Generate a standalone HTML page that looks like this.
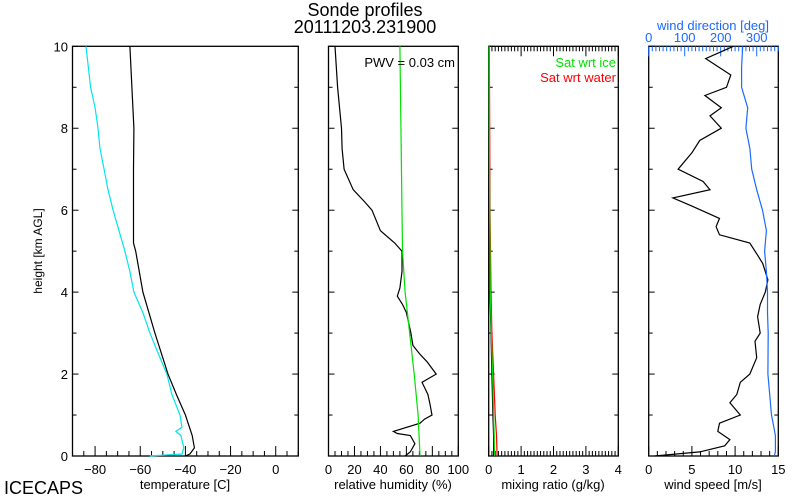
<!DOCTYPE html>
<html><head><meta charset="utf-8"><style>
html,body{margin:0;padding:0;background:#fff;}
svg{display:block;font-family:"Liberation Sans",sans-serif;}
</style></head><body>
<svg id="c" width="800" height="500" viewBox="0 0 800 500">
<text x="365" y="16" font-size="18" text-anchor="middle">Sonde profiles</text>
<text x="365" y="33" font-size="18" text-anchor="middle">20111203.231900</text>
<text x="4" y="494" font-size="18">ICECAPS</text>
<text transform="translate(42,251) rotate(-90)" font-size="12" text-anchor="middle">height [km AGL]</text>
</svg>
<script>
// ---- data ----
const tempH = [0,0.05,0.2,0.5,1,1.5,2,3,4,5,5.2,6,7,8,9,10];
const tempT = [-40,-38,-36,-37,-40,-44,-47.7,-53.5,-58.8,-62,-63,-63,-63,-62.8,-63.7,-64.6];
const dewH = [0,0.05,0.2,0.5,0.6,0.7,1,1.5,2,2.5,3,3.5,4,4.5,5,5.5,6,6.5,7,7.5,8,8.5,9,9.5,10];
const dewT = [-55.7,-41.5,-40.7,-42,-44.2,-41.5,-42.4,-46,-48.2,-52,-55.7,-58.8,-62.8,-64.6,-66.8,-69.4,-72,-74.3,-76,-77.8,-78.7,-80,-82,-83,-84];
const rhH = [0,0.1,0.3,0.5,0.55,0.6,0.8,0.9,1,1.3,1.5,1.8,2,2.3,2.5,2.7,3,3.5,3.7,3.9,4.1,4.5,5,5.2,5.5,6,6.2,6.5,7,7.5,8,9,9.5,10];
const rhV = [59,63,66.6,63,53,50,70.5,74,79.7,78,76.6,72,83,76,70,65,63.5,60,57,53,55,56.6,56.6,51,40,33.5,28,19,12,10.5,10,7,6,5];
const rhIceH = [0,1,2,4,5,10];
const rhIceV = [70.5,69,66,59,57,55];
const mrH = [0,0.5,1,2,3,4,6,8,10];
const mrWater = [0.26,0.24,0.2,0.15,0.1,0.07,0.04,0.03,0.02];
const mrIce = [0.18,0.17,0.15,0.12,0.08,0.05,0.03,0.02,0.01];
const mrObs = [0.15,0.15,0.13,0.1,0.07,0.04,0.02,0.01,0.01];
const wsH = [0,0.1,0.25,0.4,0.6,0.8,1,1.3,1.5,1.8,2,2.4,2.8,3,3.4,3.7,4,4.3,4.7,4.9,5.2,5.4,5.6,5.8,6.1,6.3,6.5,6.7,7,7.4,7.7,8,8.3,8.5,8.8,9,9.3,9.7,10];
const wsV = [0.7,5.9,8.8,9.4,8,8.2,10.6,9.4,10.2,10.6,11.7,12.5,12.3,12.9,12.6,12.9,13.5,13.8,13.2,12.6,11.7,8.2,7.8,8.2,5,2.8,7.1,6.3,3.4,5,5.9,8.4,7.1,8.4,6.5,9,9.5,6.6,9.8];
const wdH = [0,0.1,0.5,1,1.5,2,3,3.5,4,4.5,5,5.5,6,6.5,7,7.5,8,8.5,9,9.5,10];
const wdV = [349,352,352,341,336,331,332,330,330,327,322,327,316,300,286,281,270,275,258,258,261];

const svg = document.getElementById('c');
const NS = 'http://www.w3.org/2000/svg';
const Y0 = 456, Y1 = 46.3;
const yS = h => Y0 + (Y1 - Y0) * h / 10;
function mk(tag, attrs, parent) {
  const e = document.createElementNS(NS, tag);
  for (const k in attrs) e.setAttribute(k, attrs[k]);
  (parent || svg).appendChild(e);
  return e;
}
function panel(name, x0, x1, vmin, vmax) {
  const g = mk('g', {});
  
  
  const r = mk('rect', {x: x0, y: Y1, width: x1 - x0, height: Y0 - Y1, fill: 'none', stroke: '#000', 'stroke-width': 1.3}, g);
  
  
  for (let h = 0; h <= 10; h++) {
    const L = h % 2 === 0 ? 6 : 4, y = yS(h);
    mk('line', {x1: x0, x2: x0 + L, y1: y, y2: y, stroke: '#000'}, g);
    mk('line', {x1: x1, x2: x1 - L, y1: y, y2: y, stroke: '#000'}, g);
  }
  return {g, x: v => x0 + (x1 - x0) * (v - vmin) / (vmax - vmin), x0, x1};
}
function xTicks(p, vmin, vmax, minor, major, labels, top, color) {
  const yb = top ? Y1 : Y0, d = top ? 1 : -1;
  for (let v = vmin; v <= vmax + 1e-9; v += minor) {
    const isMaj = Math.abs(v / major - Math.round(v / major)) < 1e-6;
    const L = isMaj ? 10 : 5;
    mk('line', {x1: p.x(v), x2: p.x(v), y1: yb, y2: yb + d * L, stroke: color || '#000'}, p.g);
  }
  labels.forEach(v => {
    const t = mk('text', {x: p.x(v), y: top ? 42 : 474, 'font-size': 13, 'text-anchor': 'middle', fill: color || '#000'}, p.g);
    t.textContent = String(v).replace('-', '\u2212');
    
    
  });
}
function line(p, hs, vs, color, name) {
  const pts = hs.map((h, i) => p.x(vs[i]).toFixed(1) + ',' + yS(h).toFixed(1)).join(' ');
  const e = mk('polyline', {points: pts, fill: 'none', stroke: color, 'stroke-width': 1.2}, p.g);
  
  
}
function label(p, x, y, txt, opts, name) {
  const t = mk('text', Object.assign({x, y, 'font-size': 13}, opts), p.g);
  t.textContent = txt;
  
  
}

// Panel 1 temperature
const p1 = panel('temperature-panel', 72.5, 298.3, -90, 10);
xTicks(p1, -90, 10, 5, 20, [-80, -60, -40, -20, 0]);
[10, 8, 6, 4, 2, 0].forEach(h => label(p1, 68, yS(h) + 5, String(h), {'text-anchor': 'end'}, 'y-tick-label'));
line(p1, dewH, dewT, '#00e5ee', 'dewpoint-line');
line(p1, tempH, tempT, '#000', 'temperature-line');
label(p1, 185, 489, 'temperature [C]', {'text-anchor': 'middle'}, 'x-axis-title-temperature');

// Panel 2 RH
const p2 = panel('rh-panel', 328.5, 458.3, 0, 100);
xTicks(p2, 0, 100, 5, 20, [0, 20, 40, 60, 80, 100]);
line(p2, rhH, rhV, '#000', 'rh-line');
line(p2, rhIceH, rhIceV, '#00e000', 'rh-ice-line');
label(p2, 455, 67, 'PWV = 0.03 cm', {'text-anchor': 'end'}, 'pwv-label');
label(p2, 393, 489, 'relative humidity (%)', {'text-anchor': 'middle'}, 'x-axis-title-rh');

// Panel 3 mixing ratio
const p3 = panel('mixing-ratio-panel', 488.7, 618.3, 0, 4);
xTicks(p3, 0, 4, 0.1, 1, [0, 1, 2, 3, 4]);
xTicks(p3, 0, 4, 0.1, 1, [], true);
line(p3, mrH, mrObs, '#000', 'mixing-ratio-line');
line(p3, mrH, mrWater, '#ff0000', 'sat-water-line');
line(p3, mrH, mrIce, '#00e000', 'sat-ice-line');
label(p3, 616, 67, 'Sat wrt ice', {'text-anchor': 'end', fill: '#00e000'}, 'legend-sat-ice');
label(p3, 616, 82, 'Sat wrt water', {'text-anchor': 'end', fill: '#ff0000'}, 'legend-sat-water');
label(p3, 553, 489, 'mixing ratio (g/kg)', {'text-anchor': 'middle'}, 'x-axis-title-mixing-ratio');

// Panel 4 wind
const p4 = panel('wind-panel', 648.7, 778.3, 0, 15);
xTicks(p4, 0, 15, 1, 5, [0, 5, 10, 15]);
const p4d = {g: p4.g, x: v => 648.7 + 129.6 * v / 360};
xTicks(p4d, 0, 360, 10, 100, [0, 100, 200, 300], true, '#1a6aff');
line(p4, wsH, wsV, '#000', 'wind-speed-line');
line(p4d, wdH, wdV, '#1a6aff', 'wind-direction-line');
label(p4, 713, 30, 'wind direction [deg]', {'text-anchor': 'middle', fill: '#1a6aff'}, 'top-axis-title-wind-direction');
label(p4, 713, 489, 'wind speed [m/s]', {'text-anchor': 'middle'}, 'x-axis-title-wind-speed');
</script>
</body></html>
